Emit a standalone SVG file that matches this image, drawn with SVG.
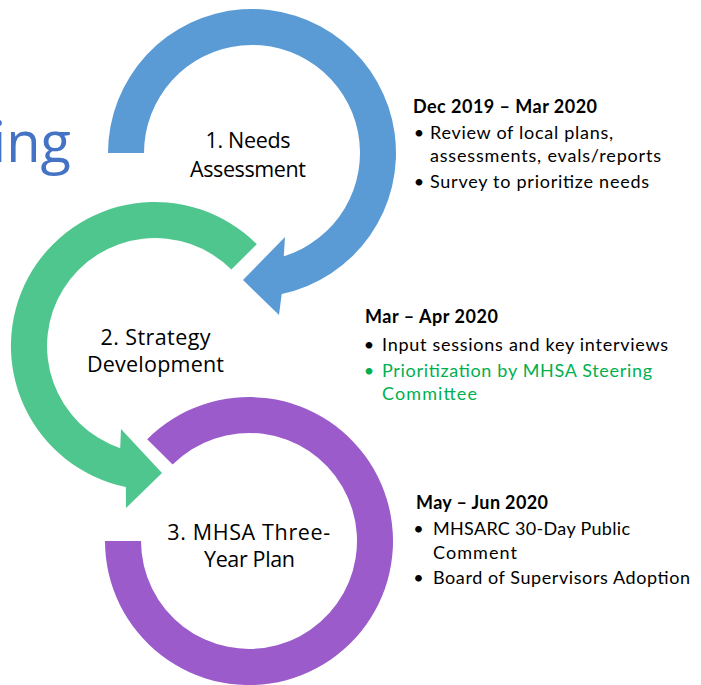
<svg xmlns="http://www.w3.org/2000/svg" width="701" height="685" viewBox="0 0 701 685">
<style>
.lbl{font-family:"Open Sans","Noto Sans","Liberation Sans",sans-serif;font-size:21.5px;fill:#000;text-anchor:middle}
.hd{font-family:Lato,"Liberation Sans",sans-serif;font-size:18px;font-weight:bold;fill:#000}
.tx{font-family:Lato,"Liberation Sans",sans-serif;font-size:18px;fill:#000}
.bu{font-family:Lato,"Liberation Sans",sans-serif;font-size:18px;fill:#000;text-anchor:middle}
.grn{fill:#00B050}
.title{font-family:"Open Sans","Noto Sans",sans-serif;font-size:56px;fill:#4472C4}
</style>
<rect width="701" height="685" fill="#fff"/>
<g id="title"><text class="title" x="71" y="162" text-anchor="end">ing</text></g>
<g id="connectors">
<path id="arrow1" fill="#5B9BD5" d="M108,153 A144,144 0 1 1 281.7,293.9 L279,315 L243,280 L285,237 L283.8,256.2 A108,108 0 1 0 144,153 Z"/>
<path id="arrow2" fill="#4FC68E" d="M256.8,244.2 A144,144 0 1 0 125.8,487 L126,508 L162,473 L121,429 L120.2,448.2 A108,108 0 1 1 231.4,269.6 Z"/>
<path id="ring3" fill="#9B5BCB" d="M147.2,439.2 A144,144 0 1 1 105,541 L141,541 A108,108 0 1 0 172.6,464.6 Z"/>
</g>
<g id="step1">
<text class="lbl" x="248" y="148.3" textLength="85">1. Needs</text>
<text class="lbl" x="248" y="176.7" textLength="116">Assessment</text>
</g>
<g id="step2">
<text class="lbl" x="155.5" y="345" textLength="110">2. Strategy</text>
<text class="lbl" x="155.5" y="371.7" textLength="137">Development</text>
</g>
<g id="step3">
<text class="lbl" x="248.7" y="540" textLength="163">3. MHSA Three-</text>
<text class="lbl" x="249.5" y="566.5" textLength="91">Year Plan</text>
</g>
<g id="notes1">
<text class="hd" x="413" y="112.5" textLength="184">Dec 2019 – Mar 2020</text>
<text class="bu" x="419" y="139">•</text>
<text class="tx" x="430" y="139" textLength="183">Review of local plans,</text>
<text class="tx" x="430" y="162" textLength="231">assessments, evals/reports</text>
<text class="bu" x="419" y="187.5">•</text>
<text class="tx" x="430" y="187.5" textLength="219">Survey to prioritize needs</text>
</g>
<g id="notes2">
<text class="hd" x="365" y="322.7" textLength="133">Mar – Apr 2020</text>
<text class="bu" x="369" y="350.5">•</text>
<text class="tx" x="382" y="350.5" textLength="286">Input sessions and key interviews</text>
<text class="bu grn" x="369" y="377">•</text>
<text class="tx grn" x="382" y="377" textLength="270">Prioritization by MHSA Steering</text>
<text class="tx grn" x="382" y="400" textLength="95">Committee</text>
</g>
<g id="notes3">
<text class="hd" x="416" y="509" textLength="132">May – Jun 2020</text>
<text class="bu" x="418.5" y="535">•</text>
<text class="tx" x="433" y="535" textLength="197">MHSARC 30-Day Public</text>
<text class="tx" x="433" y="559" textLength="84">Comment</text>
<text class="bu" x="418.5" y="584">•</text>
<text class="tx" x="433" y="584" textLength="257">Board of Supervisors Adoption</text>
</g>
</svg>
